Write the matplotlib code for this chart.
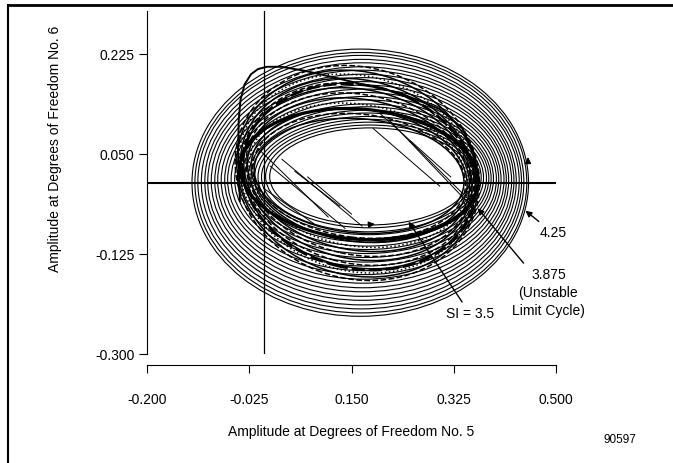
import matplotlib
matplotlib.use("Agg")
import matplotlib.pyplot as plt
from matplotlib.patches import Ellipse
from matplotlib.lines import Line2D

plt.rcParams['font.family'] = ['Liberation Sans', 'DejaVu Sans']

# axis ticks
x_ticks = [-0.200, -0.025, 0.150, 0.325, 0.500]
x_tick_labels = ["-0.200", "-0.025", "0.150", "0.325", "0.500"]
y_ticks = [-0.300, -0.125, 0.050, 0.225]
y_tick_labels = ["-0.300", "-0.125", "0.050", "0.225"]

# outer family of orbits (outermost first)
ring_cx = [0.165, 0.166, 0.166, 0.167, 0.168, 0.168, 0.169, 0.170, 0.170, 0.171, 0.172, 0.172,
           0.173, 0.174, 0.174, 0.175, 0.176, 0.177, 0.177, 0.178, 0.179, 0.180, 0.181, 0.182]
ring_cy = [0.000, 0.000, 0.001, 0.001, 0.002, 0.002, 0.003, 0.003, 0.004, 0.004, 0.005, 0.005,
           0.006, 0.006, 0.007, 0.007, 0.008, 0.008, 0.009, 0.009, 0.010, 0.010, 0.011, 0.011]
ring_a = [0.288, 0.284, 0.279, 0.274, 0.269, 0.264, 0.259, 0.254, 0.249, 0.244, 0.239, 0.234,
          0.229, 0.224, 0.219, 0.214, 0.209, 0.204, 0.199, 0.194, 0.189, 0.184, 0.178, 0.172]
ring_b = [0.234, 0.228, 0.222, 0.215, 0.208, 0.201, 0.194, 0.187, 0.180, 0.173, 0.166, 0.159,
          0.152, 0.145, 0.138, 0.131, 0.125, 0.119, 0.113, 0.107, 0.101, 0.096, 0.090, 0.085]

# transient orbits (dense dark band)
band_cx = [0.163, 0.163, 0.163, 0.162, 0.162, 0.162, 0.161, 0.161, 0.161, 0.160, 0.160, 0.160]
band_cy = [0.012, 0.012, 0.013, 0.013, 0.014, 0.014, 0.015, 0.015, 0.016, 0.016, 0.016, 0.017]
band_a = [0.180, 0.183, 0.186, 0.189, 0.192, 0.195, 0.198, 0.201, 0.204, 0.207, 0.210, 0.213]
band_b = [0.100, 0.108, 0.116, 0.124, 0.132, 0.140, 0.148, 0.156, 0.163, 0.170, 0.177, 0.184]
band_ang = [-5, -7, -8, -10, -11, -13, -14, -16, -17, -19, -20, -22]
band_ls = ['-', '--', '-', ':', '-', '--', '-', '--', '-', ':', '-', '--']

# limit cycles
si35_cycle = dict(cx=0.163, cy=0.015, a=0.204, b=0.114, ang=-5)
si3875_cycle = dict(cx=0.163, cy=0.010, a=0.202, b=0.160, ang=-15)

# loop trajectory at the upper left
loop_x = [-0.041, -0.044, -0.043, -0.040, -0.033, -0.022, -0.010, 0.005, 0.030, 0.070,
          0.113, 0.170, 0.233, 0.301, 0.340, 0.360, 0.367]
loop_y = [-0.032, 0.055, 0.110, 0.145, 0.172, 0.190, 0.199, 0.203, 0.203, 0.196,
          0.186, 0.172, 0.157, 0.129, 0.095, 0.050, 0.003]

# straight transient strokes inside the orbits
seg_x0 = [0.187, 0.216, 0.011, 0.031, 0.053, 0.250, -0.010, 0.075, 0.200, 0.000]
seg_y0 = [0.095, 0.108, 0.029, 0.041, 0.020, 0.073, 0.060, 0.010, 0.120, -0.010]
seg_x1 = [0.301, 0.339, 0.139, 0.168, 0.130, 0.353, 0.110, 0.150, 0.320, 0.090]
seg_y1 = [-0.006, -0.024, -0.080, -0.076, -0.041, -0.032, -0.060, -0.055, 0.010, -0.075]

fig = plt.figure(figsize=(6.73, 4.63), dpi=100)
ax = fig.add_axes([147 / 673, 1 - 354 / 463, 409 / 673, (354 - 11.4) / 463])

for cx, cy, a, b in zip(ring_cx, ring_cy, ring_a, ring_b):
    ax.add_patch(Ellipse((cx, cy), 2 * a, 2 * b, fill=False, ec='black', lw=0.8))

for cx, cy, a, b, ang, ls in zip(band_cx, band_cy, band_a, band_b, band_ang, band_ls):
    ax.add_patch(Ellipse((cx, cy), 2 * a, 2 * b, angle=ang, fill=False,
                         ec='black', lw=1.1, ls=ls))

c = si3875_cycle
ax.add_patch(Ellipse((c['cx'], c['cy']), 2 * c['a'], 2 * c['b'], angle=c['ang'],
                     fill=False, ec='black', lw=1.9, ls=(0, (5, 1.5))))
c = si35_cycle
ax.add_patch(Ellipse((c['cx'], c['cy']), 2 * c['a'], 2 * c['b'], angle=c['ang'],
                     fill=False, ec='black', lw=2.3))

ax.plot(loop_x, loop_y, color='black', lw=1.4)

for x0, y0, x1, y1 in zip(seg_x0, seg_y0, seg_x1, seg_y1):
    ax.plot([x0, x1], [y0, y1], color='black', lw=0.7)

# zero lines
ax.axhline(0, color='black', lw=1.5)
ax.axvline(0, color='black', lw=0.9)

# annotations
arrow = dict(arrowstyle='-|>', color='black', lw=1.0, mutation_scale=9)
ax.annotate("4.25", xy=(0.444, -0.046), xytext=(0.495, -0.088),
            ha='center', va='center', fontsize=10, arrowprops=arrow)
ax.annotate("3.875\n(Unstable\nLimit Cycle)", xy=(0.363, -0.041), xytext=(0.487, -0.193),
            ha='center', va='center', fontsize=10, linespacing=1.35, arrowprops=arrow)
ax.annotate("SI = 3.5", xy=(0.245, -0.064), xytext=(0.353, -0.230),
            ha='center', va='center', fontsize=10, arrowprops=arrow)
ax.annotate("", xy=(0.452, 0.050), xytext=(0.452, 0.030), arrowprops=arrow)
ax.annotate("", xy=(0.195, -0.072), xytext=(0.175, -0.074), arrowprops=arrow)

ax.set_xlim(-0.2, 0.5)
ax.set_ylim(-0.3, 0.3)
ax.set_xticks(x_ticks)
ax.set_xticklabels(x_tick_labels)
ax.set_yticks(y_ticks)
ax.set_yticklabels(y_tick_labels)
ax.tick_params(axis='x', length=6, width=0.8, pad=14, labelsize=10)
ax.tick_params(axis='y', length=6, width=0.8, pad=3, labelsize=10)

for s in ['top', 'right']:
    ax.spines[s].set_visible(False)
ax.spines['left'].set_linewidth(0.8)
ax.spines['bottom'].set_linewidth(0.8)
ax.spines['bottom'].set_position(('outward', 8))

fig.text(351 / 673, 1 - 432 / 463, "Amplitude at Degrees of Freedom No. 5",
         ha='center', va='center', fontsize=10)
fig.text(55 / 673, 1 - 149 / 463, "Amplitude at Degrees of Freedom No. 6",
         ha='center', va='center', rotation=90, fontsize=10)
fig.text(620 / 673, 1 - 440 / 463, "90597", ha='center', va='center', fontsize=8.5)

# page frame
fig.add_artist(Line2D([8 / 673, 1], [1 - 5 / 463, 1 - 5 / 463], transform=fig.transFigure,
                      color='black', lw=2))
fig.add_artist(Line2D([8 / 673, 8 / 673], [0, 1 - 5 / 463], transform=fig.transFigure,
                      color='black', lw=1.5))

fig.savefig("out.png", dpi=100)
